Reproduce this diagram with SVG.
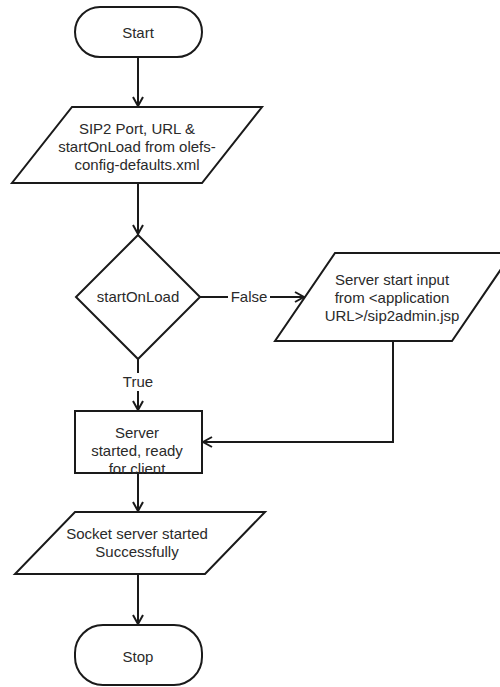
<svg xmlns="http://www.w3.org/2000/svg" width="500" height="687" viewBox="0 0 500 687">
  <style>
    .shape { fill: #ffffff; stroke: #1a1a1a; stroke-width: 2; }
    .edge { fill: none; stroke: #1a1a1a; stroke-width: 2; }
    .t { font-family: "Liberation Sans", Arial, sans-serif; font-size: 15px; fill: #2a2a2a; text-anchor: middle; }
    .lblbg { fill: #ffffff; stroke: none; }
  </style>
  <defs>
    <marker id="arrow" markerUnits="userSpaceOnUse" markerWidth="14" markerHeight="14" viewBox="-12 -7 14 14" refX="0" refY="0" orient="auto">
      <path d="M-9,-5 L0,0 L-9,5" fill="none" stroke="#1a1a1a" stroke-width="2"/>
    </marker>
  </defs>
  <rect width="500" height="687" fill="#ffffff"/>

  <g id="connectors">
    <path class="edge" d="M138,57 L138,106" marker-end="url(#arrow)"/>
    <path class="edge" d="M138,183 L138,234" marker-end="url(#arrow)"/>
    <path class="edge" d="M200,297 L304,297" marker-end="url(#arrow)"/>
    <path class="edge" d="M138,359 L138,410" marker-end="url(#arrow)"/>
    <path class="edge" d="M393,341 L393,442 L203,442" marker-end="url(#arrow)"/>
    <path class="edge" d="M138,473 L138,511" marker-end="url(#arrow)"/>
    <path class="edge" d="M138,574 L138,624" marker-end="url(#arrow)"/>
    <rect class="lblbg" x="228" y="288" width="42" height="18"/>
    <text class="t" x="249" y="302">False</text>
    <rect class="lblbg" x="120" y="373" width="36" height="18"/>
    <text class="t" x="138" y="387">True</text>
  </g>

  <g id="start">
    <rect class="shape" x="75" y="7" width="127" height="50" rx="25" ry="25"/>
    <text class="t" x="138" y="38">Start</text>
  </g>

  <g id="input-config">
    <polygon class="shape" points="72,107 262,107 202,183 12,183"/>
    <text class="t" x="137" y="134">SIP2 Port, URL &amp;</text>
    <text class="t" x="137" y="152">startOnLoad from olefs-</text>
    <text class="t" x="137" y="170">config-defaults.xml</text>
  </g>

  <g id="decision">
    <polygon class="shape" points="138,235 200,297 138,359 76,297"/>
    <text class="t" x="138" y="302">startOnLoad</text>
  </g>

  <g id="input-admin">
    <polygon class="shape" points="335,253 512,253 452,341 275,341"/>
    <text class="t" x="392" y="285">Server start input</text>
    <text class="t" x="392" y="303">from &lt;application</text>
    <text class="t" x="392" y="321">URL&gt;/sip2admin.jsp</text>
  </g>

  <g id="server-started">
    <rect class="shape" x="75" y="411" width="127" height="62"/>
    <text class="t" x="137" y="438">Server</text>
    <text class="t" x="137" y="456">started, ready</text>
    <text class="t" x="137" y="474">for client</text>
  </g>

  <g id="output-socket">
    <polygon class="shape" points="75,512 265,512 205,574 15,574"/>
    <text class="t" x="137" y="539">Socket server started</text>
    <text class="t" x="137" y="557">Successfully</text>
  </g>

  <g id="stop">
    <rect class="shape" x="75" y="625" width="127" height="60" rx="28" ry="28"/>
    <text class="t" x="138" y="662">Stop</text>
  </g>
</svg>
